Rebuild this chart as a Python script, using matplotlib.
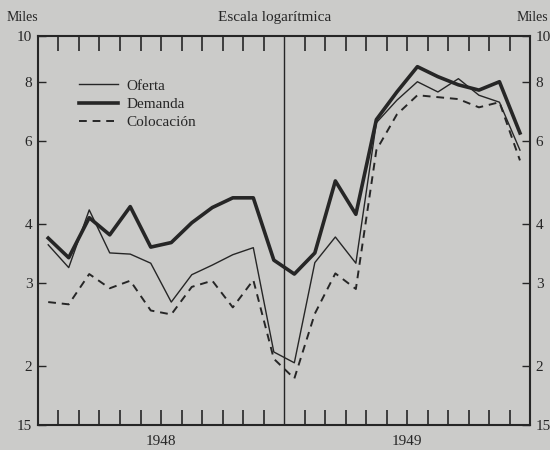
"""Oferta, demanda y colocación mensual 1948-1949 (escala logarítmica)."""

import matplotlib.pyplot as plt
from matplotlib.ticker import FixedLocator, NullLocator

# datos en miles, enero 1948 a diciembre 1949
meses = list(range(24))
oferta = [3.61, 3.23, 4.28, 3.47, 3.45, 3.30, 2.73, 3.12, 3.27, 3.44, 3.56, 2.14,
          2.03, 3.31, 3.75, 3.30, 6.55, 7.31, 8.00, 7.61, 8.12, 7.49, 7.24, 5.73]
demanda = [3.73, 3.39, 4.12, 3.79, 4.35, 3.57, 3.65, 4.02, 4.33, 4.54, 4.54, 3.35,
           3.13, 3.47, 4.93, 4.19, 6.65, 7.61, 8.61, 8.20, 7.88, 7.68, 8.00, 6.23]
colocacion = [2.73, 2.70, 3.13, 2.92, 3.03, 2.62, 2.57, 2.94, 3.03, 2.66, 3.04, 2.07,
              1.88, 2.58, 3.14, 2.91, 5.73, 6.82, 7.49, 7.42, 7.35, 7.06, 7.24, 5.45]

yticks = [1.5, 2, 3, 4, 6, 8, 10]
ylabels = ["15", "2", "3", "4", "6", "8", "10"]
anios = ["1948", "1949"]

fondo = "#cbcbc9"
tinta = "#262626"
plt.rcParams["font.family"] = ["Liberation Serif", "DejaVu Serif"]

fig = plt.figure(figsize=(5.5, 4.5), dpi=100, facecolor=fondo)
ax = fig.add_axes([0.069, 0.056, 0.895, 0.864], facecolor=fondo)

x = [m + 0.5 for m in meses]
ax.plot(x, oferta, color=tinta, lw=1.0, label="Oferta")
ax.plot(x, demanda, color=tinta, lw=2.6, label="Demanda")
ax.plot(x, colocacion, color=tinta, lw=1.4, ls=(0, (4, 3)), label="Colocación")
ax.axvline(12, color=tinta, lw=1.0)

ax.set_yscale("log")
ax.set_ylim(1.5, 10)
ax.set_xlim(0, 24)

ax.yaxis.set_major_locator(FixedLocator(yticks))
ax.yaxis.set_minor_locator(NullLocator())
ax.set_yticklabels(ylabels)
ax.tick_params(axis="y", direction="in", length=6, width=1.0, labelsize=11,
               colors=tinta, pad=4, left=True, right=True,
               labelleft=True, labelright=True)

bordes = [m for m in range(1, 24) if m != 12]
ax.xaxis.set_major_locator(FixedLocator(bordes))
ax.xaxis.set_minor_locator(NullLocator())
ax.set_xticklabels([])
ax.tick_params(axis="x", which="major", direction="in", length=11, width=1.2,
               top=True, bottom=True, colors=tinta)

# años centrados bajo cada mitad
for i, anio in enumerate(anios):
    ax.text(6 + 12 * i, -0.025, anio, transform=ax.get_xaxis_transform(),
            ha="center", va="top", fontsize=11, color=tinta)

for s in ax.spines.values():
    s.set_linewidth(1.5)
    s.set_color(tinta)

ax.legend(loc="upper left", bbox_to_anchor=(0.055, 0.925), frameon=False,
          handlelength=2.6, handletextpad=0.5, labelspacing=0.3,
          fontsize=11, labelcolor=tinta)

fig.text(0.5, 0.962, "Escala logarítmica", ha="center", va="center",
         fontsize=11, color=tinta)
fig.text(0.04, 0.962, "Miles", ha="center", va="center", fontsize=10,
         color=tinta)
fig.text(0.967, 0.962, "Miles", ha="center", va="center", fontsize=10,
         color=tinta)

fig.savefig("out.png", dpi=100, facecolor=fondo)
plt.close(fig)
